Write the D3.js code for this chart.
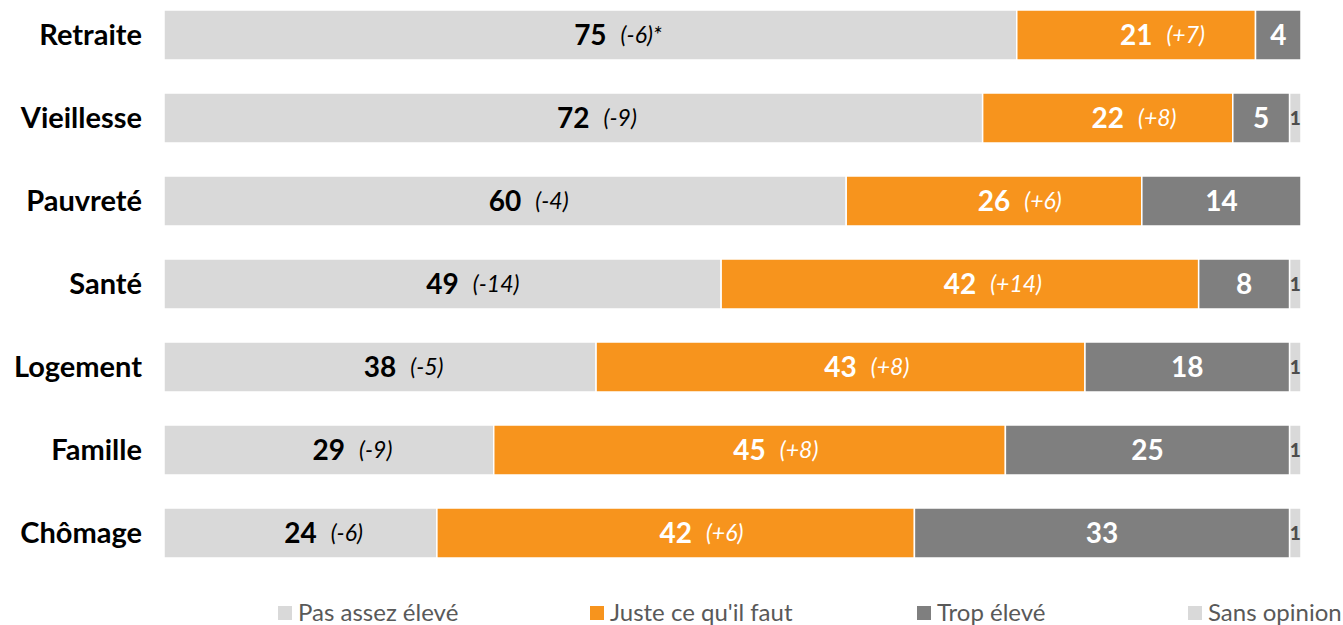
<!DOCTYPE html>
<html>
<head>
<meta charset="utf-8">
<script src="https://cdn.jsdelivr.net/npm/d3@7"></script>
<style>
  body { margin: 0; background: #fff; }
  svg text { font-family: Lato, "Open Sans", sans-serif; }
</style>
</head>
<body>
<svg id="chart"></svg>
<script>
// Data
const categories = ["Retraite", "Vieillesse", "Pauvreté", "Santé", "Logement", "Famille", "Chômage"];
const seriesNames = ["Pas assez élevé", "Juste ce qu'il faut", "Trop élevé", "Sans opinion"];
const pasAssez = [75, 72, 60, 49, 38, 29, 24];
const juste = [21, 22, 26, 42, 43, 45, 42];
const trop = [4, 5, 14, 8, 18, 25, 33];
const sansOpinion = [0, 1, 0, 1, 1, 1, 1];
const pasAssezChange = ["(-6)*", "(-9)", "(-4)", "(-14)", "(-5)", "(-9)", "(-6)"];
const justeChange = ["(+7)", "(+8)", "(+6)", "(+14)", "(+8)", "(+8)", "(+6)"];

const colors = ["#d9d9d9", "#f7941d", "#7f7f7f", "#d9d9d9"];
const labelColors = ["#000", "#fff", "#fff", "#4d4d4d"];

const width = 1343, height = 625;
const margin = { top: 10, right: 42, bottom: 67, left: 164 };

const rows = categories.map((c, i) => ({
  cat: c,
  [seriesNames[0]]: pasAssez[i],
  [seriesNames[1]]: juste[i],
  [seriesNames[2]]: trop[i],
  [seriesNames[3]]: sansOpinion[i]
}));
const changes = [pasAssezChange, justeChange, null, null];

const svg = d3.select("#chart").attr("width", width).attr("height", height);

const x = d3.scaleLinear().domain([0, 100]).range([margin.left, width - margin.right]);
const y = d3.scaleBand().domain(categories).range([margin.top, height - margin.bottom]).paddingInner(0.3976).paddingOuter(0);

const stacked = d3.stack().keys(seriesNames)(rows);

// category labels
svg.append("g").selectAll("text")
  .data(categories)
  .enter().append("text")
  .attr("x", margin.left - 22)
  .attr("y", d => y(d) + y.bandwidth() / 2)
  .attr("dy", "0.35em")
  .attr("text-anchor", "end")
  .attr("font-weight", "bold")
  .attr("font-size", 29)
  .attr("fill", "#000")
  .text(d => d);

const layers = svg.append("g").selectAll("g")
  .data(stacked)
  .enter().append("g");

// bars
layers.selectAll("rect")
  .data((d, si) => d.map((v, i) => ({ v, si, i })))
  .enter().append("rect")
  .attr("x", d => x(d.v[0]))
  .attr("y", d => y(categories[d.i]))
  .attr("width", d => x(d.v[1]) - x(d.v[0]))
  .attr("height", y.bandwidth())
  .attr("fill", d => colors[d.si])
  .attr("stroke", "#fff")
  .attr("stroke-width", 1.5)
  .style("display", d => d.v[1] - d.v[0] > 0 ? null : "none");

// value labels: number centered in segment, change text appended after it
layers.each(function (layer, si) {
  const g = d3.select(this);
  layer.forEach((v, i) => {
    const val = v[1] - v[0];
    if (val <= 0) return;
    const cx = (x(v[0]) + x(v[1])) / 2;
    const cy = y(categories[i]) + y.bandwidth() / 2;
    const small = si === 3;
    const num = g.append("text")
      .attr("x", cx)
      .attr("y", cy)
      .attr("dy", "0.36em")
      .attr("text-anchor", "middle")
      .attr("font-weight", small ? 900 : "bold")
      .attr("font-size", small ? 19 : 28)
      .attr("fill", labelColors[si])
      .text(val);
    if (changes[si]) {
      const w = num.node().getComputedTextLength();
      g.append("text")
        .attr("x", cx + w / 2 + 14)
        .attr("y", cy)
        .attr("dy", "0.36em")
        .attr("font-style", "italic")
        .attr("font-size", 23)
        .attr("fill", labelColors[si])
        .text(changes[si][i]);
    }
  });
});

// legend
const legendX = [278, 590, 917, 1188];
const legend = svg.append("g").selectAll("g")
  .data(seriesNames)
  .enter().append("g")
  .attr("transform", (d, i) => `translate(${legendX[i]}, 613)`);
legend.append("rect")
  .attr("x", 0).attr("y", -7)
  .attr("width", 14).attr("height", 14)
  .attr("fill", (d, i) => colors[i]);
legend.append("text")
  .attr("x", 20)
  .attr("y", 0)
  .attr("dy", "0.35em")
  .attr("font-size", 24)
  .attr("fill", "#595959")
  .text(d => d);
</script>
</body>
</html>
